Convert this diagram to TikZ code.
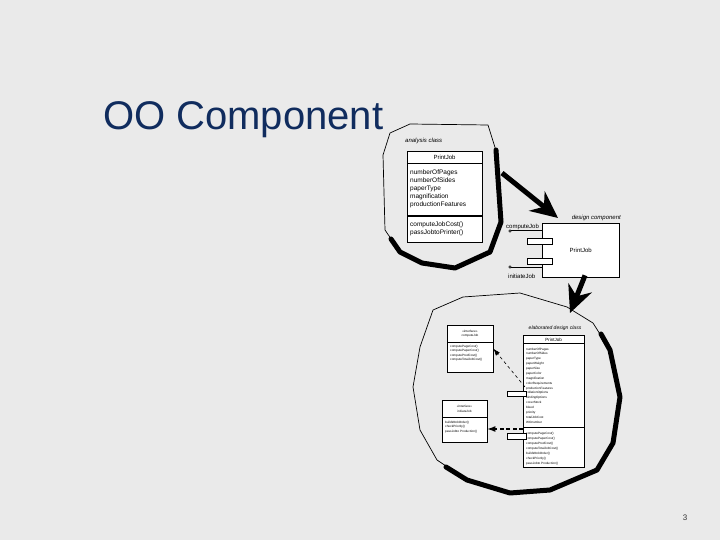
\documentclass[tikz,border=0pt]{standalone}
\usepackage{fontspec}
\setmainfont{Liberation Sans}
\usetikzlibrary{arrows.meta}
\definecolor{slidebg}{RGB}{234,234,234}
\definecolor{titleblue}{RGB}{16,44,94}

\begin{document}
\begin{tikzpicture}[x=1pt,y=-1pt,>=Latex,
    classbox/.style={draw,fill=white,inner sep=0pt,anchor=north west},
    portbox/.style={draw,fill=white,inner sep=0pt,minimum width=25,minimum height=6},
    blobthin/.style={line width=0.7pt,line join=round},
    blobthick/.style={line width=5pt,line join=round,line cap=round},
    bigarrow/.style={line width=5pt,-{Stealth[length=27pt,width=25pt,inset=9pt]}},
    midtxt/.style={font=\fontsize{6}{7}\selectfont,inner sep=0pt},
    bodytxt/.style={font=\fontsize{6.5}{8}\selectfont,inner sep=0pt,anchor=base west},
    tinytxt/.style={font=\fontsize{3.1}{4}\selectfont,inner sep=0pt,anchor=base west},
    tinyhead/.style={font=\fontsize{3.1}{4}\selectfont,inner sep=0pt}]

  % ================= 背景 =================
  \fill[slidebg] (0,0) rectangle (720,540);
  \useasboundingbox (0,0) rectangle (720,540);

  \node[font=\fontsize{40}{48}\selectfont,text=titleblue,inner sep=0pt,anchor=base west]
    (title) at (103,130) {OO Component};
  \node[font=\fontsize{8}{9}\selectfont,text=black!80,inner sep=0pt] (pageno) at (685,518) {3};

  % ================= 分析类 =================
  \draw[blobthin] (390,133) -- (410,124) -- (488,125) -- (498,157) -- (501,222) -- (490,252)
    -- (455,268) -- (422,263) -- (400,252) -- (385,230) -- (383,155) -- cycle;
  \draw[blobthick] (496,150) -- (501,222) -- (490,252) -- (455,268) -- (422,263) -- (400,252) -- (391,239);

  \node[midtxt,font=\fontsize{6}{7}\itshape,anchor=base west] (anaLbl) at (405,143) {analysis class};
  \node[classbox,minimum width=75,minimum height=91] (ana) at (407,151) {};
  \draw (ana.north west) ++(0,12) -- ++(75,0);
  \draw[line width=1.2pt] (ana.north west) ++(0,65) -- ++(75,0);
  \node[midtxt] (anaName) at (444.5,157.5) {PrintJob};
  \foreach \t [count=\i] in {numberOfPages,numberOfSides,paperType,magnification,productionFeatures}
    \node[bodytxt] (anaAttr\i) at (410,{167+8*\i}) {\t};
  \foreach \t [count=\i] in {computeJobCost(),passJobtoPrinter()}
    \node[bodytxt] (anaOp\i) at (410,{218+8*\i}) {\t};

  % ================= 设计构件 =================
  \node[classbox,minimum width=77,minimum height=54] (dc) at (542,223) {};
  \node[midtxt] (dcName) at (dc.center) {PrintJob};
  \node[midtxt,font=\fontsize{6}{7}\itshape,anchor=base east] (dcLbl) at (621,219) {design component};
  \node[portbox] (dcPort1) at (539.5,241) {};
  \node[portbox] (dcPort2) at (539.5,261) {};

  \coordinate (cjEnd) at (510,231);
  \coordinate (ijEnd) at (510,267);
  \draw[line width=1pt] (cjEnd) -- (cjEnd -| dc.west);
  \draw[line width=1pt] (ijEnd) -- (ijEnd -| dc.west);
  \draw[fill=white,line width=0.5pt] (cjEnd) circle (1.2);
  \draw[fill=white,line width=0.5pt] (ijEnd) circle (1.2);
  \node[midtxt,anchor=base west] (cjLbl) at (506,229) {computeJob};
  \node[midtxt,anchor=base west] (ijLbl) at (508,278.5) {initiateJob};

  % ================= 大箭头 =================
  \coordinate (blob1Out) at (502,173);
  \draw[bigarrow] (blob1Out) -- ([shift={(16,-5)}]dc.north west);
  \coordinate (blob2In) at (570,313);
  \draw[bigarrow] ([shift={(43,-2)}]dc.south west) -- (blob2In);

  % ================= 细化设计类 =================
  \draw[blobthin] (433,310) -- (463,297) -- (520,293) -- (567,307) -- (593,323) -- (610,350)
    -- (620,397) -- (613,443) -- (597,470) -- (550,490) -- (510,493) -- (467,480) -- (437,460)
    -- (420,430) -- (413,387) -- (420,347) -- cycle;
  \draw[blobthick] (601,334) -- (610,350) -- (620,397) -- (613,443) -- (597,470) -- (550,490)
    -- (510,493) -- (467,480) -- (446,467);

  \node[midtxt,font=\fontsize{5}{6}\itshape,anchor=base] (elaLbl) at (555,329) {elaborated design class};
  \node[classbox,minimum width=61,minimum height=132] (ela) at (523,335) {};
  \draw (ela.north west) ++(0,8) -- ++(61,0);
  \draw[line width=0.8pt] (ela.north west) ++(0,92) -- ++(61,0);
  \node[midtxt,font=\fontsize{4.5}{5}\selectfont] (elaName) at (553.5,339.5) {PrintJob};
  \foreach \t [count=\i] in {numberOfPages,numberOfSides,paperType,paperWeight,paperSize,paperColor,
      magnification,colorRequirements,productionFeatures,collationOptions,bindingOptions,
      coverStock,bleed,priority,totalJobCost,WOnumber}
    \node[tinytxt] (elaAttr\i) at (526,{345.2+4.87*\i}) {\t};
  \foreach \t [count=\i] in {computePageCost(),computePaperCost(),computeProdCost(),
      computeTotalJobCost(),buildWorkOrder(),checkPriority(),passJobto Production()}
    \node[tinytxt] (elaOp\i) at (526,{429+5*\i}) {\t};
  \node[portbox,minimum width=19,minimum height=5.5] (elaPort1) at (516.5,393.5) {};
  \node[portbox,minimum width=19,minimum height=5.5] (elaPort2) at (516.5,436) {};

  % ================= 接口 =================
  \node[classbox,minimum width=46,minimum height=47] (cj) at (447,325) {};
  \draw (cj.north west) ++(0,17) -- ++(46,0);
  \node[tinyhead] (cjStereo) at (470,331) {«interface»};
  \node[tinyhead] (cjName) at (470,335.5) {computeJob};
  \foreach \t [count=\i] in {computePageCost(),computePaperCost(),computeProdCost(),computeTotalJobCost()}
    \node[tinytxt] (cjOp\i) at (450,{342.5+4.5*\i}) {\t};

  \node[classbox,minimum width=45,minimum height=42] (ij) at (442,400) {};
  \draw (ij.north west) ++(0,17) -- ++(45,0);
  \node[tinyhead] (ijStereo) at (464.5,406) {«interface»};
  \node[tinyhead] (ijName) at (464.5,411) {initiateJob};
  \foreach \t [count=\i] in {buildWorkOrder(),checkPriority(),passJobto Production()}
    \node[tinytxt] (ijOp\i) at (445,{418.5+4.5*\i}) {\t};

  % 依赖箭头
  \coordinate (dep1Start) at (525,387);
  \draw[dashed,line width=0.6pt,-{Latex[length=7pt,width=5pt]}] (dep1Start) -- (cj.east);
  \coordinate (dep2Start) at (523,429);
  \draw[dash pattern=on 4pt off 2.5pt,line width=1.1pt,-{Latex[length=8pt,width=6pt]}]
    (dep2Start) -- (dep2Start -| ij.east);

\end{tikzpicture}
\end{document}
